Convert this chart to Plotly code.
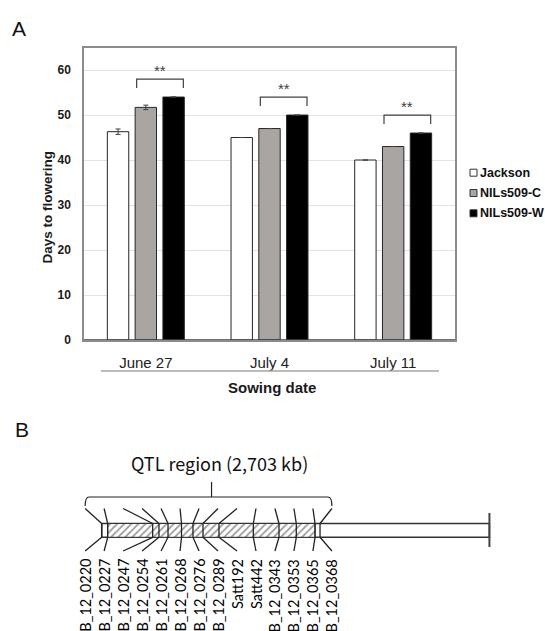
import plotly.graph_objects as go

# ---------------- Panel A data ----------------
dates = ["June 27", "July 4", "July 11"]
series_names = ["Jackson", "NILs509-C", "NILs509-W"]
jackson = [46.3, 45.0, 40.0]
jackson_err = [0.6, 0.0, 0.0]
nil_c = [51.7, 47.0, 43.0]
nil_c_err = [0.5, 0.0, 0.0]
nil_w = [54.0, 50.0, 46.0]
nil_w_err = [0.0, 0.0, 0.0]
significance = ["**", "**", "**"]
y_ticks = [0, 10, 20, 30, 40, 50, 60]

# ---------------- Panel B data ----------------
markers = ["B_12_0220", "B_12_0227", "B_12_0247", "B_12_0254", "B_12_0261",
           "B_12_0268", "B_12_0276", "B_12_0289", "Satt192", "Satt442",
           "B_12_0343", "B_12_0353", "B_12_0365", "B_12_0368"]
marker_pos_kb = [0, 74, 631, 709, 821, 988, 1130, 1254, 1452, 1877,
                 2195, 2409, 2641, 2703]
chrom_len_kb = 4800
qtl_label = "QTL region (2,703 kb)"

# ---------------- styling / layout constants ----------------
W, H = 545, 631
colors = ["#ffffff", "#a8a5a3", "#000000"]
BARGAP, GROUPGAP = 0.326, 0.23
slot = (1 - BARGAP) / 3

def px(p):          # horizontal pixel -> paper
    return p / W

def py(p):          # vertical pixel (from top) -> paper
    return 1 - p / H

FONT = "Liberation Sans, Arial, sans-serif"
fig = go.Figure()

values = [jackson, nil_c, nil_w]
errs = [jackson_err, nil_c_err, nil_w_err]
xs = list(range(len(dates)))
for name, vals, err, col in zip(series_names, values, errs, colors):
    fig.add_trace(go.Bar(
        x=xs, y=vals, name=name, showlegend=False,
        marker=dict(color=col, line=dict(color="#262626", width=1)),
        error_y=dict(type="data", array=err, color="#404040",
                     thickness=1, width=2.5),
        xaxis="x", yaxis="y"))

shapes = []
annotations = []

def note(x, y, text, font, xref="paper", yref="paper", xanchor="center",
         yanchor="middle", textangle=0):
    annotations.append(dict(x=x, y=y, xref=xref, yref=yref, text=text,
                            showarrow=False, xanchor=xanchor, yanchor=yanchor,
                            textangle=textangle, font=font))

# significance brackets between NILs509-C and NILs509-W
for i, (c, w, s) in enumerate(zip(nil_c, nil_w, significance)):
    top = max(c, w) + 4.0
    low = max(c, w) + 2.0
    x0 = i - 0.33 * slot
    x1 = i + slot + 0.35 * slot
    shapes.append(dict(type="path", xref="x", yref="y",
                       path=f"M {x0},{low} L {x0},{top} L {x1},{top} L {x1},{low}",
                       line=dict(color="#404040", width=1.2)))
    note((x0 + x1) / 2, max(c, w) + 6.0, s,
         dict(family=FONT, size=15, color="#404040"), xref="x", yref="y")

# darker baseline
shapes.append(dict(type="line", xref="x domain", yref="y", x0=0, x1=1, y0=0, y1=0,
                   line=dict(color="#404040", width=1.5)))
# grey line under category labels
shapes.append(dict(type="line", xref="paper", yref="paper",
                   x0=px(101), x1=px(439), y0=py(371), y1=py(371),
                   line=dict(color="#a6a6a6", width=1.5)))

note(px(271.5), py(387), "Sowing date",
     dict(family=FONT, size=15, color="#1a1a1a", weight="bold"))
note(px(47), py(207.5), "Days to flowering",
     dict(family=FONT, size=13.5, color="#1a1a1a", weight="bold"), textangle=-90)

# custom legend
leg_y = [172.7, 193.0, 213.3]
for name, col, yy in zip(series_names, colors, leg_y):
    shapes.append(dict(type="rect", xref="paper", yref="paper",
                       x0=px(470), x1=px(477), y0=py(yy + 3.5), y1=py(yy - 3.5),
                       fillcolor=col, line=dict(color="#333333", width=1)))
    note(px(478), py(yy), name,
         dict(family=FONT, size=12.5, color="#111111", weight="bold"), xanchor="left")

# panel letters
note(px(18.5), py(28.5), "A", dict(family=FONT, size=21, color="#111111"))
note(px(22), py(430), "B", dict(family=FONT, size=21, color="#111111"))

# ---------------- Panel B: chromosome schematic ----------------
KB_PER_PX = 12.38
CHR_X0_PX = 101.7
BAR_TOP, BAR_BOT = 523.5, 537.3
bar_mid, bar_h = (BAR_TOP + BAR_BOT) / 2, BAR_BOT - BAR_TOP
LAB_START = -205.0
LAB_STEP = 235.0
lab_x = [LAB_START + i * LAB_STEP for i in range(len(markers))]

fig.add_trace(go.Bar(
    x=[chrom_len_kb], base=[0], y=[bar_mid], orientation="h", width=[bar_h],
    marker=dict(color="white", line=dict(color="#333333", width=1.5)),
    offsetgroup="chrom", showlegend=False, hoverinfo="skip",
    xaxis="x2", yaxis="y2"))
fig.add_trace(go.Bar(
    x=[marker_pos_kb[-2] - marker_pos_kb[1]], base=[marker_pos_kb[1]], y=[bar_mid],
    orientation="h", width=[bar_h],
    marker=dict(color="white", line=dict(color="#333333", width=1),
                pattern=dict(shape="/", fgcolor="#3c3c3c", bgcolor="white",
                             size=5, solidity=0.35)),
    offsetgroup="chrom", showlegend=False, hoverinfo="skip",
    xaxis="x2", yaxis="y2"))

# chromosome end cap
shapes.append(dict(type="line", xref="x2", yref="y2", x0=chrom_len_kb, x1=chrom_len_kb,
                   y0=513, y1=547, line=dict(color="#444444", width=2)))

for pos, lx in zip(marker_pos_kb, lab_x):
    shapes.append(dict(type="line", xref="x2", yref="y2", x0=pos, x1=pos,
                       y0=BAR_TOP, y1=BAR_BOT, line=dict(color="#222222", width=1.3)))
    shapes.append(dict(type="line", xref="x2", yref="y2", x0=lx, x1=pos,
                       y0=508.5, y1=BAR_TOP, line=dict(color="#222222", width=1.3)))
    shapes.append(dict(type="line", xref="x2", yref="y2", x0=pos, x1=lx,
                       y0=BAR_BOT, y1=551, line=dict(color="#222222", width=1.3)))

for name, lx in zip(markers, lab_x):
    note(lx, 557, name, dict(family="Lato, Liberation Sans, sans-serif",
                             size=14.5, color="#000000"),
         xref="x2", yref="y2", yanchor="top", textangle=-90)

# QTL bracket
bx0, bx1 = lab_x[0], lab_x[-1]
R = 4 * KB_PER_PX
bm = (bx0 + bx1) / 2 + 3 * KB_PER_PX
shapes.append(dict(type="path", xref="x2", yref="y2",
                   path=(f"M {bx0},506 Q {bx0},497 {bx0 + R},497 "
                         f"L {bx1 - R},497 Q {bx1},497 {bx1},506"),
                   line=dict(color="#222222", width=1.2)))
shapes.append(dict(type="line", xref="x2", yref="y2", x0=bm, x1=bm, y0=497, y1=482,
                   line=dict(color="#222222", width=1.2)))
note(bm + 8 * KB_PER_PX, 463, qtl_label,
     dict(family="Noto Sans CJK JP, sans-serif", size=18, color="#111111"),
     xref="x2", yref="y2")

fig.update_layout(
    width=W, height=H,
    margin=dict(l=0, r=0, t=0, b=0, autoexpand=False),
    paper_bgcolor="white", plot_bgcolor="rgba(0,0,0,0)",
    barmode="group", bargap=BARGAP, bargroupgap=GROUPGAP,
    showlegend=False,
    shapes=shapes, annotations=annotations,
    xaxis=dict(domain=[px(84), px(455)], range=[-0.5, 2.5],
               tickvals=xs, ticktext=dates, showgrid=False, zeroline=False,
               showline=True, mirror=True, linecolor="#8c8c8c", linewidth=1.5,
               ticks="", ticklabelstandoff=8, automargin=False,
               tickfont=dict(family=FONT, size=15, color="#222222"),
               anchor="y", fixedrange=True),
    yaxis=dict(domain=[py(340), py(48)], range=[0, 64.9],
               tickvals=y_ticks, showgrid=True, gridcolor="#e3e3e3", gridwidth=1,
               zeroline=False, showline=True, mirror=True, linecolor="#8c8c8c",
               linewidth=1.5, ticks="", ticklabelstandoff=9, automargin=False,
               tickfont=dict(family=FONT, size=12, color="#1a1a1a", weight="bold"),
               anchor="x", fixedrange=True),
    xaxis2=dict(domain=[0, 1],
                range=[(0 - CHR_X0_PX) * KB_PER_PX, (W - CHR_X0_PX) * KB_PER_PX],
                visible=False, anchor="y2", fixedrange=True),
    yaxis2=dict(domain=[0, py(429)], range=[H, 429], visible=False,
                anchor="x2", fixedrange=True),
)

fig.write_html("out.html", config={"displayModeBar": False},
               post_script="document.body.style.margin='0';"
                           "document.body.style.overflow='hidden';")
